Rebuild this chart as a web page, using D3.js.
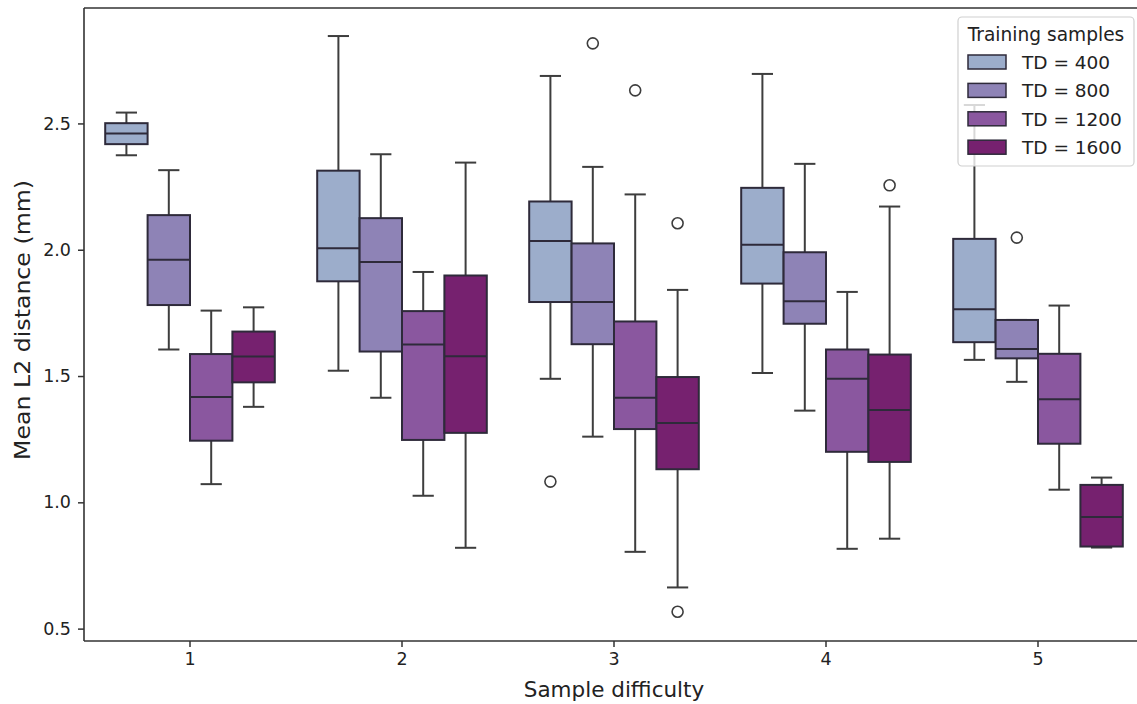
<!DOCTYPE html>
<html>
<head>
<meta charset="utf-8">
<script src="https://cdn.jsdelivr.net/npm/d3@7"></script>
<style>
  body { margin: 0; background: #fff; }
  svg { display: block; font-family: "DejaVu Sans", sans-serif; }
</style>
</head>
<body>
<svg id="chart" width="1137" height="704"></svg>
<script>
// categories and series
var categories = [1, 2, 3, 4, 5];
var seriesNames = ["TD = 400", "TD = 800", "TD = 1200", "TD = 1600"];
var colors = ["#9cadcb", "#8e83b6", "#8a579f", "#76216f"];

// box stats per category: [whisker low, q1, median, q3, whisker high]
var td400 = [
  [2.374, 2.418, 2.460, 2.501, 2.543],
  [1.521, 1.875, 2.006, 2.313, 2.846],
  [1.489, 1.793, 2.035, 2.191, 2.688],
  [1.512, 1.866, 2.020, 2.245, 2.696],
  [1.564, 1.634, 1.764, 2.043, 2.573]
];
var td800 = [
  [1.605, 1.781, 1.960, 2.137, 2.315],
  [1.414, 1.597, 1.951, 2.125, 2.378],
  [1.260, 1.626, 1.793, 2.025, 2.328],
  [1.363, 1.707, 1.796, 1.990, 2.340],
  [1.477, 1.570, 1.607, 1.722, 1.722]
];
var td1200 = [
  [1.072, 1.244, 1.417, 1.587, 1.759],
  [1.026, 1.247, 1.625, 1.757, 1.912],
  [0.804, 1.290, 1.414, 1.716, 2.219],
  [0.816, 1.200, 1.489, 1.605, 1.833],
  [1.050, 1.232, 1.408, 1.588, 1.779]
];
var td1600 = [
  [1.378, 1.475, 1.577, 1.676, 1.772],
  [0.820, 1.275, 1.578, 1.898, 2.345],
  [0.663, 1.131, 1.314, 1.496, 1.841],
  [0.856, 1.160, 1.366, 1.585, 2.171],
  [0.821, 0.825, 0.942, 1.069, 1.098]
];
// outliers per category
var out400 = [[], [], [1.082], [], []];
var out800 = [[], [], [2.817], [], [2.048]];
var out1200 = [[], [], [2.631], [], []];
var out1600 = [[], [], [2.105, 0.567], [2.255], []];

var yTicks = [0.5, 1.0, 1.5, 2.0, 2.5];

var allStats = [td400, td800, td1200, td1600];
var allOut = [out400, out800, out1200, out1600];

var svg = d3.select("#chart");
var mLeft = 84, mRight = 1144, mTop = 8, mBottom = 641;
var ink = "#3d3d3d";

var x = d3.scaleBand().domain(categories).range([mLeft, mRight]);
var inner = d3.scaleBand().domain(seriesNames).range([0, x.bandwidth() * 0.8]);
var y = d3.scaleLinear().domain([0.451, 2.957]).range([mBottom, mTop]);

function bx(ci, si) {
  return x(categories[ci]) + x.bandwidth() * 0.1 + inner(seriesNames[si]);
}
var bw = inner.bandwidth();

// boxes
allStats.forEach(function(stats, si) {
  var g = svg.append("g");
  stats.forEach(function(s, ci) {
    var x0 = bx(ci, si), xm = x0 + bw / 2;
    // whiskers
    g.append("line").attr("x1", xm).attr("x2", xm).attr("y1", y(s[3])).attr("y2", y(s[4]))
      .attr("stroke", ink).attr("stroke-width", 2);
    g.append("line").attr("x1", xm).attr("x2", xm).attr("y1", y(s[1])).attr("y2", y(s[0]))
      .attr("stroke", ink).attr("stroke-width", 2);
    // caps
    [s[0], s[4]].forEach(function(v) {
      g.append("line").attr("x1", xm - bw / 4).attr("x2", xm + bw / 4)
        .attr("y1", y(v)).attr("y2", y(v))
        .attr("stroke", ink).attr("stroke-width", 2);
    });
    g.append("rect").attr("x", x0).attr("width", bw)
      .attr("y", y(s[3])).attr("height", y(s[1]) - y(s[3]))
      .attr("fill", colors[si]).attr("stroke", "#2e2a3a").attr("stroke-width", 2);
    g.append("line").attr("x1", x0).attr("x2", x0 + bw).attr("y1", y(s[2])).attr("y2", y(s[2]))
      .attr("stroke", "#2e2a3a").attr("stroke-width", 2);
  });
  allOut[si].forEach(function(vals, ci) {
    vals.forEach(function(v) {
      g.append("circle").attr("cx", bx(ci, si) + bw / 2).attr("cy", y(v)).attr("r", 5.5)
        .attr("fill", "none").attr("stroke", ink).attr("stroke-width", 1.6);
    });
  });
});

// axes
var xAxis = svg.append("g").attr("transform", "translate(0," + mBottom + ")")
  .call(d3.axisBottom(x).tickSize(6).tickPadding(6));
var yAxis = svg.append("g").attr("transform", "translate(" + mLeft + ",0)")
  .call(d3.axisLeft(y).tickValues(yTicks).tickFormat(d3.format(".1f")).tickSize(6).tickPadding(7));
[xAxis, yAxis].forEach(function(a) {
  a.select(".domain").remove();
  a.selectAll(".tick line").attr("stroke", "#333").attr("stroke-width", 1.5);
  a.selectAll(".tick text").attr("fill", "#222").style("font-size", "17.5px")
    .style("font-family", "DejaVu Sans");
});

// spines
svg.append("line").attr("x1", mLeft).attr("x2", mLeft).attr("y1", mTop).attr("y2", mBottom)
  .attr("stroke", "#333").attr("stroke-width", 1.6);
svg.append("line").attr("x1", mLeft).attr("x2", mRight).attr("y1", mBottom).attr("y2", mBottom)
  .attr("stroke", "#333").attr("stroke-width", 1.6);
svg.append("line").attr("x1", mLeft).attr("x2", mRight).attr("y1", mTop).attr("y2", mTop)
  .attr("stroke", "#333").attr("stroke-width", 1.6);

// axis labels
svg.append("text").attr("x", 614).attr("y", 697)
  .attr("text-anchor", "middle").attr("fill", "#222").style("font-size", "21.5px")
  .text("Sample difficulty");
svg.append("text")
  .attr("transform", "translate(30," + 320 + ") scale(1,1.1) rotate(-90)")
  .attr("text-anchor", "middle").attr("fill", "#222").style("font-size", "21.5px")
  .text("Mean L2 distance (mm)");

// legend
var lg = svg.append("g");
lg.append("rect").attr("x", 958).attr("y", 17).attr("width", 176).attr("height", 149)
  .attr("rx", 4).attr("fill", "white").attr("fill-opacity", 0.8)
  .attr("stroke", "#d0d0d0").attr("stroke-width", 1.2);
lg.append("text").attr("x", 1046).attr("y", 41).attr("text-anchor", "middle")
  .attr("fill", "#222").style("font-size", "18.6px").text("Training samples");
seriesNames.forEach(function(name, i) {
  var yy = 62 + i * 28.4;
  lg.append("rect").attr("x", 968).attr("y", yy - 7).attr("width", 38).attr("height", 14)
    .attr("fill", colors[i]).attr("stroke", "#2e2a3a").attr("stroke-width", 1.5);
  lg.append("text").attr("x", 1022).attr("y", yy + 7).attr("fill", "#222")
    .style("font-size", "18.5px").text(name);
});
</script>
</body>
</html>
